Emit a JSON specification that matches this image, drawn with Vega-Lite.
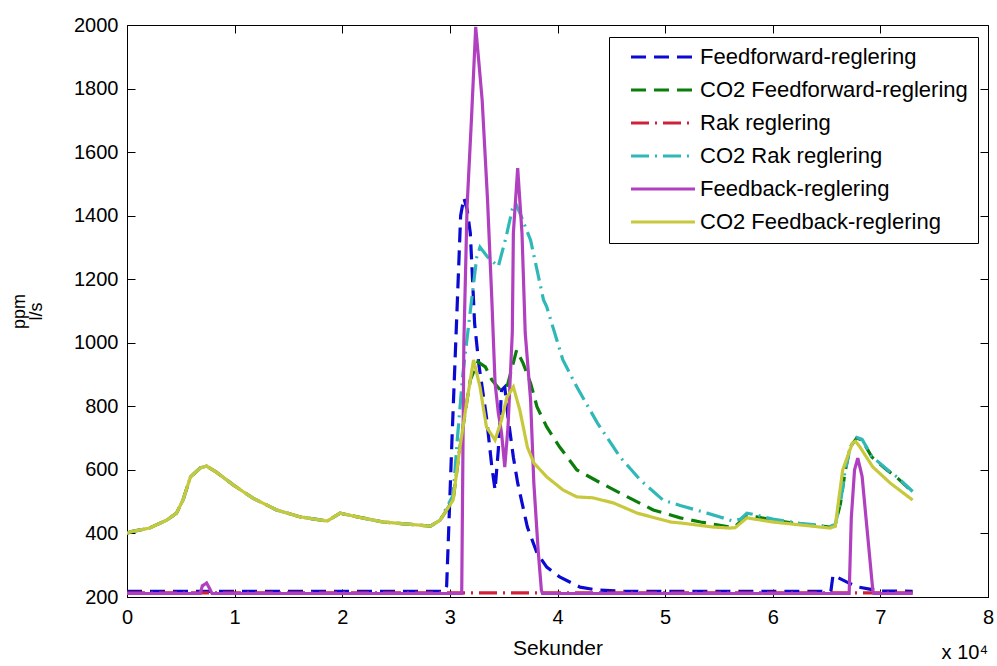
{
  "$schema": "https://vega.github.io/schema/vega-lite/v6.json",
  "width": 861,
  "height": 572,
  "autosize": {"type": "none"},
  "padding": {"left": 127, "top": 25, "right": 9, "bottom": 69},
  "background": "white",
  "config": {
    "view": {"stroke": "black", "strokeWidth": 1},
    "font": "Liberation Sans",
    "axis": {
      "grid": false,
      "domainColor": "black",
      "tickColor": "black",
      "tickWidth": 1,
      "labelColor": "black",
      "titleColor": "black",
      "labelFont": "Liberation Sans",
      "titleFont": "Liberation Sans",
      "labelFontSize": 20,
      "titleFontWeight": "normal",
      "tickSize": -8
    }
  },
  "title": {
    "text": "x 10⁴",
    "orient": "bottom",
    "anchor": "end",
    "frame": "group",
    "font": "Liberation Sans",
    "fontSize": 20,
    "fontWeight": "normal",
    "color": "black",
    "offset": -15
  },
  "data": {
    "values": [
      {"s": "Feedforward-reglering", "t": 0, "v": 218},
      {"s": "Feedforward-reglering", "t": 29500, "v": 218},
      {"s": "Feedforward-reglering", "t": 29700, "v": 235},
      {"s": "Feedforward-reglering", "t": 30200, "v": 700},
      {"s": "Feedforward-reglering", "t": 30700, "v": 1135},
      {"s": "Feedforward-reglering", "t": 31000, "v": 1400},
      {"s": "Feedforward-reglering", "t": 31300, "v": 1456},
      {"s": "Feedforward-reglering", "t": 31600, "v": 1420},
      {"s": "Feedforward-reglering", "t": 31900, "v": 1345},
      {"s": "Feedforward-reglering", "t": 32300, "v": 1060},
      {"s": "Feedforward-reglering", "t": 32700, "v": 930},
      {"s": "Feedforward-reglering", "t": 33000, "v": 860},
      {"s": "Feedforward-reglering", "t": 33400, "v": 766},
      {"s": "Feedforward-reglering", "t": 33900, "v": 609},
      {"s": "Feedforward-reglering", "t": 34200, "v": 537},
      {"s": "Feedforward-reglering", "t": 34500, "v": 663},
      {"s": "Feedforward-reglering", "t": 34800, "v": 851},
      {"s": "Feedforward-reglering", "t": 35100, "v": 861},
      {"s": "Feedforward-reglering", "t": 35400, "v": 766},
      {"s": "Feedforward-reglering", "t": 35900, "v": 640},
      {"s": "Feedforward-reglering", "t": 36300, "v": 559},
      {"s": "Feedforward-reglering", "t": 37200, "v": 420},
      {"s": "Feedforward-reglering", "t": 38100, "v": 338},
      {"s": "Feedforward-reglering", "t": 39000, "v": 294},
      {"s": "Feedforward-reglering", "t": 40200, "v": 263},
      {"s": "Feedforward-reglering", "t": 42100, "v": 231},
      {"s": "Feedforward-reglering", "t": 43700, "v": 222},
      {"s": "Feedforward-reglering", "t": 46000, "v": 218},
      {"s": "Feedforward-reglering", "t": 65400, "v": 218},
      {"s": "Feedforward-reglering", "t": 65600, "v": 269},
      {"s": "Feedforward-reglering", "t": 66900, "v": 247},
      {"s": "Feedforward-reglering", "t": 67800, "v": 232},
      {"s": "Feedforward-reglering", "t": 69000, "v": 225},
      {"s": "Feedforward-reglering", "t": 70000, "v": 219},
      {"s": "Feedforward-reglering", "t": 73000, "v": 218},

      {"s": "CO2 Feedforward-reglering", "t": 0, "v": 400},
      {"s": "CO2 Feedforward-reglering", "t": 300, "v": 405},
      {"s": "CO2 Feedforward-reglering", "t": 2100, "v": 417},
      {"s": "CO2 Feedforward-reglering", "t": 3700, "v": 442},
      {"s": "CO2 Feedforward-reglering", "t": 4600, "v": 464},
      {"s": "CO2 Feedforward-reglering", "t": 5200, "v": 505},
      {"s": "CO2 Feedforward-reglering", "t": 5900, "v": 578},
      {"s": "CO2 Feedforward-reglering", "t": 6800, "v": 606},
      {"s": "CO2 Feedforward-reglering", "t": 7400, "v": 612},
      {"s": "CO2 Feedforward-reglering", "t": 8300, "v": 593},
      {"s": "CO2 Feedforward-reglering", "t": 9900, "v": 552},
      {"s": "CO2 Feedforward-reglering", "t": 11700, "v": 511},
      {"s": "CO2 Feedforward-reglering", "t": 13900, "v": 474},
      {"s": "CO2 Feedforward-reglering", "t": 16100, "v": 452},
      {"s": "CO2 Feedforward-reglering", "t": 18600, "v": 439},
      {"s": "CO2 Feedforward-reglering", "t": 19800, "v": 464},
      {"s": "CO2 Feedforward-reglering", "t": 21400, "v": 452},
      {"s": "CO2 Feedforward-reglering", "t": 23800, "v": 436},
      {"s": "CO2 Feedforward-reglering", "t": 26900, "v": 427},
      {"s": "CO2 Feedforward-reglering", "t": 28200, "v": 423},
      {"s": "CO2 Feedforward-reglering", "t": 29100, "v": 442},
      {"s": "CO2 Feedforward-reglering", "t": 30300, "v": 505},
      {"s": "CO2 Feedforward-reglering", "t": 30900, "v": 663},
      {"s": "CO2 Feedforward-reglering", "t": 31600, "v": 820},
      {"s": "CO2 Feedforward-reglering", "t": 31900, "v": 883},
      {"s": "CO2 Feedforward-reglering", "t": 32600, "v": 940},
      {"s": "CO2 Feedforward-reglering", "t": 33300, "v": 924},
      {"s": "CO2 Feedforward-reglering", "t": 33900, "v": 883},
      {"s": "CO2 Feedforward-reglering", "t": 34700, "v": 851},
      {"s": "CO2 Feedforward-reglering", "t": 35300, "v": 860},
      {"s": "CO2 Feedforward-reglering", "t": 35800, "v": 924},
      {"s": "CO2 Feedforward-reglering", "t": 36200, "v": 977},
      {"s": "CO2 Feedforward-reglering", "t": 36800, "v": 936},
      {"s": "CO2 Feedforward-reglering", "t": 37500, "v": 873},
      {"s": "CO2 Feedforward-reglering", "t": 38100, "v": 798},
      {"s": "CO2 Feedforward-reglering", "t": 39000, "v": 735},
      {"s": "CO2 Feedforward-reglering", "t": 40200, "v": 672},
      {"s": "CO2 Feedforward-reglering", "t": 41800, "v": 600},
      {"s": "CO2 Feedforward-reglering", "t": 44000, "v": 559},
      {"s": "CO2 Feedforward-reglering", "t": 46500, "v": 515},
      {"s": "CO2 Feedforward-reglering", "t": 48900, "v": 474},
      {"s": "CO2 Feedforward-reglering", "t": 51400, "v": 449},
      {"s": "CO2 Feedforward-reglering", "t": 53300, "v": 436},
      {"s": "CO2 Feedforward-reglering", "t": 56000, "v": 420},
      {"s": "CO2 Feedforward-reglering", "t": 56500, "v": 422},
      {"s": "CO2 Feedforward-reglering", "t": 57600, "v": 455},
      {"s": "CO2 Feedforward-reglering", "t": 58500, "v": 452},
      {"s": "CO2 Feedforward-reglering", "t": 60000, "v": 442},
      {"s": "CO2 Feedforward-reglering", "t": 62500, "v": 430},
      {"s": "CO2 Feedforward-reglering", "t": 65300, "v": 420},
      {"s": "CO2 Feedforward-reglering", "t": 65800, "v": 426},
      {"s": "CO2 Feedforward-reglering", "t": 66300, "v": 496},
      {"s": "CO2 Feedforward-reglering", "t": 66700, "v": 590},
      {"s": "CO2 Feedforward-reglering", "t": 67200, "v": 672},
      {"s": "CO2 Feedforward-reglering", "t": 67800, "v": 700},
      {"s": "CO2 Feedforward-reglering", "t": 68300, "v": 694},
      {"s": "CO2 Feedforward-reglering", "t": 69200, "v": 641},
      {"s": "CO2 Feedforward-reglering", "t": 70600, "v": 600},
      {"s": "CO2 Feedforward-reglering", "t": 71600, "v": 574},
      {"s": "CO2 Feedforward-reglering", "t": 73000, "v": 530},

      {"s": "Rak reglering", "t": 0, "v": 213},
      {"s": "Rak reglering", "t": 73000, "v": 213},

      {"s": "CO2 Rak reglering", "t": 0, "v": 400},
      {"s": "CO2 Rak reglering", "t": 300, "v": 405},
      {"s": "CO2 Rak reglering", "t": 2100, "v": 417},
      {"s": "CO2 Rak reglering", "t": 3700, "v": 442},
      {"s": "CO2 Rak reglering", "t": 4600, "v": 464},
      {"s": "CO2 Rak reglering", "t": 5200, "v": 505},
      {"s": "CO2 Rak reglering", "t": 5900, "v": 578},
      {"s": "CO2 Rak reglering", "t": 6800, "v": 606},
      {"s": "CO2 Rak reglering", "t": 7400, "v": 612},
      {"s": "CO2 Rak reglering", "t": 8300, "v": 593},
      {"s": "CO2 Rak reglering", "t": 9900, "v": 552},
      {"s": "CO2 Rak reglering", "t": 11700, "v": 511},
      {"s": "CO2 Rak reglering", "t": 13900, "v": 474},
      {"s": "CO2 Rak reglering", "t": 16100, "v": 452},
      {"s": "CO2 Rak reglering", "t": 18600, "v": 439},
      {"s": "CO2 Rak reglering", "t": 19800, "v": 464},
      {"s": "CO2 Rak reglering", "t": 21400, "v": 452},
      {"s": "CO2 Rak reglering", "t": 23800, "v": 436},
      {"s": "CO2 Rak reglering", "t": 26900, "v": 427},
      {"s": "CO2 Rak reglering", "t": 28200, "v": 423},
      {"s": "CO2 Rak reglering", "t": 29100, "v": 442},
      {"s": "CO2 Rak reglering", "t": 30300, "v": 520},
      {"s": "CO2 Rak reglering", "t": 30700, "v": 700},
      {"s": "CO2 Rak reglering", "t": 31200, "v": 900},
      {"s": "CO2 Rak reglering", "t": 31900, "v": 1100},
      {"s": "CO2 Rak reglering", "t": 32500, "v": 1270},
      {"s": "CO2 Rak reglering", "t": 32800, "v": 1301},
      {"s": "CO2 Rak reglering", "t": 33500, "v": 1270},
      {"s": "CO2 Rak reglering", "t": 34500, "v": 1240},
      {"s": "CO2 Rak reglering", "t": 35200, "v": 1330},
      {"s": "CO2 Rak reglering", "t": 35800, "v": 1420},
      {"s": "CO2 Rak reglering", "t": 36100, "v": 1440},
      {"s": "CO2 Rak reglering", "t": 36600, "v": 1400},
      {"s": "CO2 Rak reglering", "t": 37500, "v": 1323},
      {"s": "CO2 Rak reglering", "t": 38700, "v": 1135},
      {"s": "CO2 Rak reglering", "t": 39000, "v": 1113},
      {"s": "CO2 Rak reglering", "t": 40500, "v": 946},
      {"s": "CO2 Rak reglering", "t": 41800, "v": 861},
      {"s": "CO2 Rak reglering", "t": 43700, "v": 748},
      {"s": "CO2 Rak reglering", "t": 45800, "v": 641},
      {"s": "CO2 Rak reglering", "t": 47700, "v": 568},
      {"s": "CO2 Rak reglering", "t": 49800, "v": 505},
      {"s": "CO2 Rak reglering", "t": 51400, "v": 488},
      {"s": "CO2 Rak reglering", "t": 53900, "v": 464},
      {"s": "CO2 Rak reglering", "t": 55100, "v": 452},
      {"s": "CO2 Rak reglering", "t": 56200, "v": 440},
      {"s": "CO2 Rak reglering", "t": 57000, "v": 445},
      {"s": "CO2 Rak reglering", "t": 57600, "v": 464},
      {"s": "CO2 Rak reglering", "t": 58500, "v": 458},
      {"s": "CO2 Rak reglering", "t": 60000, "v": 445},
      {"s": "CO2 Rak reglering", "t": 62500, "v": 432},
      {"s": "CO2 Rak reglering", "t": 65300, "v": 422},
      {"s": "CO2 Rak reglering", "t": 65800, "v": 428},
      {"s": "CO2 Rak reglering", "t": 66300, "v": 498},
      {"s": "CO2 Rak reglering", "t": 66700, "v": 592},
      {"s": "CO2 Rak reglering", "t": 67200, "v": 674},
      {"s": "CO2 Rak reglering", "t": 67800, "v": 702},
      {"s": "CO2 Rak reglering", "t": 68300, "v": 696},
      {"s": "CO2 Rak reglering", "t": 69200, "v": 643},
      {"s": "CO2 Rak reglering", "t": 70600, "v": 602},
      {"s": "CO2 Rak reglering", "t": 71600, "v": 576},
      {"s": "CO2 Rak reglering", "t": 73000, "v": 532},

      {"s": "Feedback-reglering", "t": 0, "v": 211},
      {"s": "Feedback-reglering", "t": 6800, "v": 211},
      {"s": "Feedback-reglering", "t": 7000, "v": 235},
      {"s": "Feedback-reglering", "t": 7400, "v": 244},
      {"s": "Feedback-reglering", "t": 7700, "v": 225},
      {"s": "Feedback-reglering", "t": 7900, "v": 211},
      {"s": "Feedback-reglering", "t": 31100, "v": 211},
      {"s": "Feedback-reglering", "t": 31300, "v": 1000},
      {"s": "Feedback-reglering", "t": 31600, "v": 1430},
      {"s": "Feedback-reglering", "t": 32000, "v": 1700},
      {"s": "Feedback-reglering", "t": 32400, "v": 1994},
      {"s": "Feedback-reglering", "t": 32700, "v": 1880},
      {"s": "Feedback-reglering", "t": 33000, "v": 1764},
      {"s": "Feedback-reglering", "t": 33500, "v": 1449},
      {"s": "Feedback-reglering", "t": 33900, "v": 1135},
      {"s": "Feedback-reglering", "t": 34200, "v": 873},
      {"s": "Feedback-reglering", "t": 34500, "v": 780},
      {"s": "Feedback-reglering", "t": 34800, "v": 716},
      {"s": "Feedback-reglering", "t": 35100, "v": 609},
      {"s": "Feedback-reglering", "t": 35400, "v": 735},
      {"s": "Feedback-reglering", "t": 35800, "v": 1031},
      {"s": "Feedback-reglering", "t": 35900, "v": 1345},
      {"s": "Feedback-reglering", "t": 36300, "v": 1550},
      {"s": "Feedback-reglering", "t": 36700, "v": 1345},
      {"s": "Feedback-reglering", "t": 37000, "v": 1031},
      {"s": "Feedback-reglering", "t": 37500, "v": 820},
      {"s": "Feedback-reglering", "t": 37800, "v": 559},
      {"s": "Feedback-reglering", "t": 38200, "v": 348},
      {"s": "Feedback-reglering", "t": 38500, "v": 222},
      {"s": "Feedback-reglering", "t": 38600, "v": 211},
      {"s": "Feedback-reglering", "t": 67100, "v": 211},
      {"s": "Feedback-reglering", "t": 67300, "v": 450},
      {"s": "Feedback-reglering", "t": 67600, "v": 600},
      {"s": "Feedback-reglering", "t": 67900, "v": 637},
      {"s": "Feedback-reglering", "t": 68300, "v": 580},
      {"s": "Feedback-reglering", "t": 68800, "v": 400},
      {"s": "Feedback-reglering", "t": 69300, "v": 220},
      {"s": "Feedback-reglering", "t": 69400, "v": 211},
      {"s": "Feedback-reglering", "t": 73000, "v": 211},

      {"s": "CO2 Feedback-reglering", "t": 0, "v": 400},
      {"s": "CO2 Feedback-reglering", "t": 300, "v": 405},
      {"s": "CO2 Feedback-reglering", "t": 2100, "v": 417},
      {"s": "CO2 Feedback-reglering", "t": 3700, "v": 442},
      {"s": "CO2 Feedback-reglering", "t": 4600, "v": 464},
      {"s": "CO2 Feedback-reglering", "t": 5200, "v": 505},
      {"s": "CO2 Feedback-reglering", "t": 5900, "v": 578},
      {"s": "CO2 Feedback-reglering", "t": 6800, "v": 606},
      {"s": "CO2 Feedback-reglering", "t": 7400, "v": 612},
      {"s": "CO2 Feedback-reglering", "t": 8300, "v": 593},
      {"s": "CO2 Feedback-reglering", "t": 9900, "v": 552},
      {"s": "CO2 Feedback-reglering", "t": 11700, "v": 511},
      {"s": "CO2 Feedback-reglering", "t": 13900, "v": 474},
      {"s": "CO2 Feedback-reglering", "t": 16100, "v": 452},
      {"s": "CO2 Feedback-reglering", "t": 18600, "v": 439},
      {"s": "CO2 Feedback-reglering", "t": 19800, "v": 464},
      {"s": "CO2 Feedback-reglering", "t": 21400, "v": 452},
      {"s": "CO2 Feedback-reglering", "t": 23800, "v": 436},
      {"s": "CO2 Feedback-reglering", "t": 26900, "v": 427},
      {"s": "CO2 Feedback-reglering", "t": 28200, "v": 423},
      {"s": "CO2 Feedback-reglering", "t": 29100, "v": 442},
      {"s": "CO2 Feedback-reglering", "t": 30300, "v": 505},
      {"s": "CO2 Feedback-reglering", "t": 30900, "v": 663},
      {"s": "CO2 Feedback-reglering", "t": 31600, "v": 820},
      {"s": "CO2 Feedback-reglering", "t": 32200, "v": 946},
      {"s": "CO2 Feedback-reglering", "t": 32800, "v": 861},
      {"s": "CO2 Feedback-reglering", "t": 33400, "v": 735},
      {"s": "CO2 Feedback-reglering", "t": 34200, "v": 694},
      {"s": "CO2 Feedback-reglering", "t": 34800, "v": 757},
      {"s": "CO2 Feedback-reglering", "t": 35300, "v": 829},
      {"s": "CO2 Feedback-reglering", "t": 35900, "v": 861},
      {"s": "CO2 Feedback-reglering", "t": 36500, "v": 788},
      {"s": "CO2 Feedback-reglering", "t": 37200, "v": 672},
      {"s": "CO2 Feedback-reglering", "t": 37800, "v": 622},
      {"s": "CO2 Feedback-reglering", "t": 39000, "v": 578},
      {"s": "CO2 Feedback-reglering", "t": 40500, "v": 537},
      {"s": "CO2 Feedback-reglering", "t": 41800, "v": 515},
      {"s": "CO2 Feedback-reglering", "t": 43300, "v": 512},
      {"s": "CO2 Feedback-reglering", "t": 45200, "v": 496},
      {"s": "CO2 Feedback-reglering", "t": 47400, "v": 464},
      {"s": "CO2 Feedback-reglering", "t": 50500, "v": 436},
      {"s": "CO2 Feedback-reglering", "t": 51400, "v": 433},
      {"s": "CO2 Feedback-reglering", "t": 54500, "v": 420},
      {"s": "CO2 Feedback-reglering", "t": 56000, "v": 417},
      {"s": "CO2 Feedback-reglering", "t": 56500, "v": 418},
      {"s": "CO2 Feedback-reglering", "t": 57600, "v": 449},
      {"s": "CO2 Feedback-reglering", "t": 60000, "v": 436},
      {"s": "CO2 Feedback-reglering", "t": 65300, "v": 417},
      {"s": "CO2 Feedback-reglering", "t": 65800, "v": 422},
      {"s": "CO2 Feedback-reglering", "t": 66500, "v": 600},
      {"s": "CO2 Feedback-reglering", "t": 67400, "v": 684},
      {"s": "CO2 Feedback-reglering", "t": 67700, "v": 690},
      {"s": "CO2 Feedback-reglering", "t": 68100, "v": 672},
      {"s": "CO2 Feedback-reglering", "t": 69300, "v": 609},
      {"s": "CO2 Feedback-reglering", "t": 70900, "v": 559},
      {"s": "CO2 Feedback-reglering", "t": 73000, "v": 505}
    ]
  },
  "layer": [
    {
      "mark": {"type": "line", "clip": true},
      "encoding": {
        "x": {
          "field": "t", "type": "quantitative",
          "scale": {"domain": [0, 80000], "nice": false, "zero": false},
          "axis": {
            "values": [0, 10000, 20000, 30000, 40000, 50000, 60000, 70000, 80000],
            "labelExpr": "datum.value / 10000",
            "title": "Sekunder",
            "titleFontSize": 21,
            "titlePadding": 10,
            "labelFlush": false,
            "labelPadding": 18
          }
        },
        "y": {
          "field": "v", "type": "quantitative",
          "scale": {"domain": [200, 2000], "nice": false, "zero": false},
          "axis": {
            "values": [200, 400, 600, 800, 1000, 1200, 1400, 1600, 1800, 2000],
            "format": "d",
            "title": ["ppm", "l/s"],
            "titleFontSize": 18,
            "titleAngle": -90,
            "titleX": -108,
            "titleY": 286,
            "titleAlign": "center",
            "titleBaseline": "middle",
            "titleLineHeight": 17,
            "labelFlush": false,
            "labelPadding": 17
          }
        },
        "color": {
          "field": "s", "type": "nominal",
          "scale": {
            "domain": ["Feedforward-reglering", "CO2 Feedforward-reglering", "Rak reglering", "CO2 Rak reglering", "Feedback-reglering", "CO2 Feedback-reglering"],
            "range": ["#0a0ad2", "#0a7d0a", "#d0203a", "#30b8b8", "#b040c0", "#c8c83c"]
          },
          "legend": {
            "orient": "none",
            "legendX": 482,
            "legendY": 12,
            "title": null,
            "strokeColor": "black",
            "fillColor": "white",
            "padding": 10,
            "symbolOffset": 10,
            "symbolSize": 4096,
            "symbolType": "stroke",
            "clipHeight": 20,
            "labelFont": "Liberation Sans",
            "labelFontSize": 22,
            "labelColor": "black",
            "labelOffset": 3,
            "labelLimit": 400,
            "rowPadding": 11
          }
        },
        "strokeDash": {
          "field": "s", "type": "nominal",
          "scale": {
            "domain": ["Feedforward-reglering", "CO2 Feedforward-reglering", "Rak reglering", "CO2 Rak reglering", "Feedback-reglering", "CO2 Feedback-reglering"],
            "range": [[15, 8], [15, 8], [18, 6, 2, 6], [18, 6, 2, 6], [1, 0], [1, 0]]
          }
        },
        "strokeWidth": {
          "field": "s", "type": "nominal",
          "scale": {
            "domain": ["Feedforward-reglering", "CO2 Feedforward-reglering", "Rak reglering", "CO2 Rak reglering", "Feedback-reglering", "CO2 Feedback-reglering"],
            "range": [3.2, 3.2, 1.2, 1.2, 1.6, 1.4]
          }
        },
        "order": {"field": "t", "type": "quantitative"}
      }
    },
    {
      "mark": {"type": "point", "opacity": 0},
      "encoding": {
        "x": {
          "field": "t", "type": "quantitative",
          "axis": {"orient": "top", "values": [0, 10000, 20000, 30000, 40000, 50000, 60000, 70000, 80000], "labels": false, "domain": false, "title": null}
        },
        "y": {
          "field": "v", "type": "quantitative",
          "axis": {"orient": "right", "values": [200, 400, 600, 800, 1000, 1200, 1400, 1600, 1800, 2000], "labels": false, "domain": false, "title": null}
        }
      }
    }
  ],
  "resolve": {"axis": {"x": "independent", "y": "independent"}}
}
